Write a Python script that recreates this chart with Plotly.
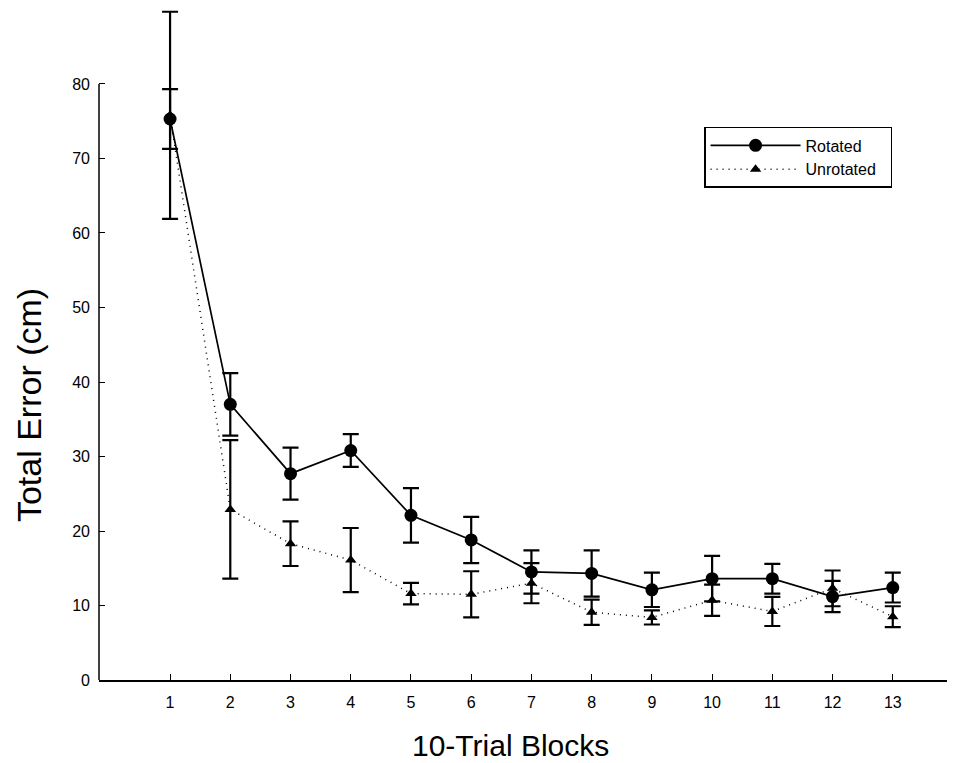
import plotly.graph_objects as go

blocks = list(range(1, 14))
rotated_mean = [75.3, 37.0, 27.7, 30.8, 22.1, 18.8, 14.5, 14.3, 12.1, 13.6, 13.6, 11.2, 12.4]
rotated_err = [4.0, 4.2, 3.5, 2.2, 3.65, 3.1, 2.9, 3.1, 2.3, 3.05, 2.0, 2.1, 2.0]
unrot_mean = [75.8, 22.9, 18.3, 16.1, 11.6, 11.5, 13.0, 9.1, 8.4, 10.7, 9.2, 12.3, 8.5]
unrot_err = [13.9, 9.3, 3.0, 4.3, 1.45, 3.1, 2.7, 1.7, 0.95, 2.1, 1.95, 2.4, 1.4]
y_ticks = [0, 10, 20, 30, 40, 50, 60, 70, 80]

FONT = "Liberation Sans, Arial, sans-serif"

fig = go.Figure()
fig.add_trace(go.Scatter(
    x=blocks, y=unrot_mean, name="Unrotated\u00a0\u00a0", mode="lines+markers",
    line=dict(color="black", width=1.5, dash="1px,5px"),
    marker=dict(symbol="triangle-up", size=10, color="black"),
    error_y=dict(type="data", array=unrot_err, visible=True, color="black",
                 thickness=2.2, width=8),
))
fig.add_trace(go.Scatter(
    x=blocks, y=rotated_mean, name="Rotated", mode="lines+markers",
    line=dict(color="black", width=1.7),
    marker=dict(symbol="circle", size=13, color="black"),
    error_y=dict(type="data", array=rotated_err, visible=True, color="black",
                 thickness=2.2, width=8),
))

# y axis line drawn only from 0 to 80
fig.add_shape(type="line", xref="paper", yref="y", x0=0, x1=0, y0=0, y1=80,
              line=dict(color="black", width=1.5))

# axis titles
fig.add_annotation(text="Total Error (cm)", xref="paper", yref="paper",
                   x=-0.0823, y=0.409, textangle=-90, showarrow=False,
                   xanchor="center", yanchor="middle",
                   font=dict(size=34, family=FONT, color="black"))
fig.add_annotation(text="10-Trial Blocks", xref="paper", yref="paper",
                   x=(510 - 99) / 851, y=-0.098, showarrow=False,
                   xanchor="center", yanchor="middle",
                   font=dict(size=30, family=FONT, color="black"))

fig.update_layout(
    width=947, height=755,
    margin=dict(l=91, r=5, t=0, b=83),
    paper_bgcolor="white", plot_bgcolor="white",
    font=dict(family=FONT, color="black"),
    legend=dict(
        x=0.711, y=0.823, xanchor="left", yanchor="top",
        bordercolor="black", borderwidth=1.5, bgcolor="white",
        font=dict(size=16, family=FONT), traceorder="reversed",
        itemwidth=90, tracegroupgap=0,
    ),
    xaxis=dict(
        range=[-0.18, 13.95], tickvals=blocks, ticks="inside", ticklen=6,
        tickcolor="black", showline=True, linecolor="black", linewidth=1.5,
        showgrid=False, zeroline=False, tickfont=dict(size=16, family=FONT),
        ticklabelstandoff=7,
    ),
    yaxis=dict(
        range=[0, 90.2], tickvals=y_ticks, ticks="inside", ticklen=6,
        tickcolor="black", showline=False, showgrid=False, zeroline=False,
        tickfont=dict(size=16, family=FONT), ticklabelstandoff=8,
    ),
)

fig.write_html("out.html")
